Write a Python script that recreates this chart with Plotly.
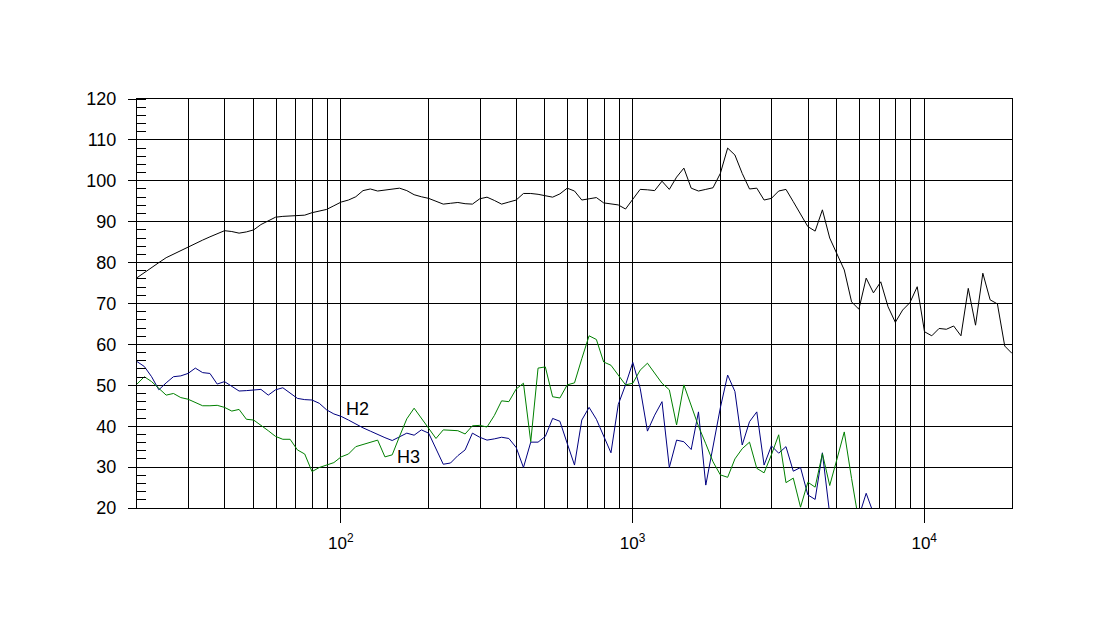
import math

import plotly.graph_objects as go

# 40 points per decade, 20 Hz .. 20 kHz
freq_hz = [
    20.00, 21.19, 22.44, 23.77, 25.18, 26.67, 28.25, 29.93, 31.70, 33.58,
    35.57, 37.67, 39.91, 42.27, 44.77, 47.43, 50.24, 53.21, 56.37, 59.71,
    63.25, 66.99, 70.96, 75.17, 79.62, 84.34, 89.34, 94.63, 100.2, 106.2,
    112.5, 119.1, 126.2, 133.7, 141.6, 150.0, 158.9, 168.3, 178.3, 188.8,
    200.0, 211.9, 224.4, 237.7, 251.8, 266.7, 282.5, 299.3, 317.0, 335.8,
    355.7, 376.7, 399.1, 422.7, 447.7, 474.3, 502.4, 532.1, 563.7, 597.1,
    632.5, 669.9, 709.6, 751.7, 796.2, 843.4, 893.4, 946.3, 1002, 1062,
    1125, 1191, 1262, 1337, 1416, 1500, 1589, 1683, 1783, 1888,
    2000, 2119, 2244, 2377, 2518, 2667, 2825, 2993, 3170, 3358,
    3557, 3767, 3991, 4227, 4477, 4743, 5024, 5321, 5637, 5971,
    6325, 6699, 7096, 7517, 7962, 8434, 8934, 9463, 10024, 10617,
    11247, 11913, 12619, 13367, 14159, 14998, 15887, 16829, 17826, 18883,
    20000,
]

spl_db = [
    76.3, 77.6, 78.8, 80.0, 81.2, 82.1, 83.0, 83.9, 84.7, 85.5,
    86.3, 87.1, 87.8, 87.6, 87.2, 87.5, 88.0, 89.3, 90.3, 91.1,
    91.3, 91.4, 91.5, 91.6, 92.2, 92.6, 93.0, 93.9, 94.8, 95.3,
    96.1, 97.6, 98.0, 97.5, 97.7, 98.0, 98.2, 97.6, 96.6, 96.1,
    95.7, 95.0, 94.3, 94.5, 94.7, 94.4, 94.3, 95.6, 96.0, 95.2,
    94.3, 94.8, 95.3, 96.9, 96.9, 96.7, 96.4, 96.0, 96.8, 98.2,
    97.5, 95.3, 95.6, 95.9, 94.6, 94.3, 94.1, 93.1, 95.4, 97.9,
    97.8, 97.6, 99.9, 97.9, 100.9, 103.1, 98.2, 97.5, 97.9, 98.3,
    101.8, 108.0, 106.3, 101.8, 98.0, 98.2, 95.3, 95.7, 97.5, 97.9,
    94.9, 92.0, 88.8, 87.7, 92.9, 86.0, 82.3, 78.2, 70.4, 68.6,
    76.2, 72.6, 75.3, 69.2, 65.4, 68.4, 70.2, 74.1, 63.1, 62.1,
    63.9, 63.7, 64.5, 62.1, 73.7, 64.7, 77.4, 70.9, 69.9, 59.6,
    57.8,
]

h2_db = [
    55.8, 54.6, 52.1, 48.9, 50.6, 52.1, 52.3, 52.9, 54.2, 53.1,
    52.9, 50.3, 50.9, 49.7, 48.6, 48.7, 48.9, 49.0, 47.6, 48.9,
    49.4, 48.2, 46.8, 46.5, 46.4, 45.6, 44.0, 43.0, 42.4, 41.5,
    40.5, 39.6, 38.8, 37.9, 37.2, 36.5, 37.5, 38.3, 37.8, 39.1,
    38.3, 34.5, 30.7, 31.0, 32.8, 34.2, 38.3, 37.3, 36.6, 36.9,
    37.3, 37.0, 34.8, 29.9, 36.1, 36.1, 37.5, 41.9, 41.2, 35.8,
    30.5, 41.5, 44.6, 41.7, 37.5, 33.5, 45.3, 50.1, 55.6, 49.3,
    38.8, 42.7, 46.0, 29.9, 36.6, 36.2, 34.3, 43.5, 25.6, 34.8,
    44.5, 52.5, 48.5, 35.4, 41.1, 43.5, 30.5, 35.2, 33.4, 35.0,
    29.0, 29.9, 23.2, 22.1, 33.5, 18.5, 14.0, 15.0, 13.0, 17.9,
    23.6, 18.7, 14.0, 12.0,
]

h3_db = [
    50.3, 52.1, 50.9, 49.3, 47.6, 48.0, 47.0, 46.6, 45.8, 45.0,
    45.0, 45.1, 44.6, 43.7, 44.1, 41.7, 41.5, 40.3, 38.9, 37.5,
    36.8, 36.8, 34.2, 33.2, 28.9, 29.9, 30.5, 31.1, 32.5, 33.2,
    35.0, 35.5, 36.0, 36.6, 32.5, 33.0, 37.5, 41.8, 44.4, 42.0,
    39.3, 37.0, 39.1, 39.0, 38.9, 38.1, 40.1, 40.2, 39.8, 42.6,
    46.2, 46.0, 49.1, 50.5, 36.2, 54.2, 54.5, 47.2, 46.9, 50.1,
    50.6, 56.5, 62.1, 61.2, 55.7, 54.9, 52.5, 50.1, 50.5, 53.7,
    55.4, 53.0, 50.5, 48.9, 40.3, 50.1, 45.0, 40.0, 35.7, 31.3,
    28.1, 27.5, 32.0, 34.5, 36.1, 29.7, 28.6, 33.0, 37.9, 26.2,
    27.3, 20.2, 26.3, 25.1, 33.3, 25.5, 32.0, 38.6, 27.2, 16.6,
    14.0, 12.0,
]

major_ticks = [100, 1000, 10000]
major_text = ["10<sup>2</sup>", "10<sup>3</sup>", "10<sup>4</sup>"]
minor_ticks = [
    30, 40, 50, 60, 70, 80, 90,
    200, 300, 400, 500, 600, 700, 800, 900,
    2000, 3000, 4000, 5000, 6000, 7000, 8000, 9000,
]

fig = go.Figure()
fig.add_trace(go.Scatter(x=freq_hz, y=spl_db, mode="lines",
                         line=dict(color="#000000", width=1), name="SPL"))
fig.add_trace(go.Scatter(x=freq_hz[:len(h2_db)], y=h2_db, mode="lines",
                         line=dict(color="#000080", width=1), name="H2"))
fig.add_trace(go.Scatter(x=freq_hz[:len(h3_db)], y=h3_db, mode="lines",
                         line=dict(color="#008000", width=1), name="H3"))

# curve labels, placed in data units (log axis wants log10 for x)
fig.add_annotation(x=math.log10(113.6), y=44.2, text="H2", showarrow=False,
                   xref="x", yref="y", font=dict(size=18, color="#000000"))
fig.add_annotation(x=math.log10(170), y=32.5, text="H3", showarrow=False,
                   xref="x", yref="y", font=dict(size=18, color="#000000"))

fig.update_xaxes(
    type="log",
    range=[math.log10(20), math.log10(20000)],
    tickmode="array",
    tickvals=major_ticks,
    ticktext=major_text,
    ticks="outside",
    ticklen=14,
    tickwidth=1,
    tickcolor="#000000",
    ticklabelstandoff=6,
    tickfont=dict(size=17),
    showgrid=True,
    gridcolor="#000000",
    gridwidth=1,
    minor=dict(tickmode="array", tickvals=minor_ticks, showgrid=True,
               gridcolor="#000000", gridwidth=1, ticks=""),
    showline=True,
    linecolor="#000000",
    linewidth=1,
    mirror=True,
    zeroline=False,
)
fig.update_yaxes(
    range=[20, 120],
    tickmode="linear",
    tick0=20,
    dtick=10,
    ticks="outside",
    ticklen=8,
    tickwidth=1,
    tickcolor="#000000",
    ticklabelstandoff=8,
    tickfont=dict(size=18),
    showgrid=True,
    gridcolor="#000000",
    gridwidth=1,
    minor=dict(dtick=2, ticks="inside", ticklen=9, tickcolor="#000000",
               tickwidth=1, showgrid=False),
    showline=True,
    linecolor="#000000",
    linewidth=1,
    mirror=True,
    zeroline=False,
)
# the page body keeps its default 8px margin, so the figure is sized to fit
fig.update_layout(
    width=1097,
    height=619,
    margin=dict(l=129, r=93, t=91, b=119),
    plot_bgcolor="#ffffff",
    paper_bgcolor="#ffffff",
    showlegend=False,
    font=dict(family="Arial, Liberation Sans, sans-serif", size=17, color="#000000"),
)

fig.write_html("out.html")
